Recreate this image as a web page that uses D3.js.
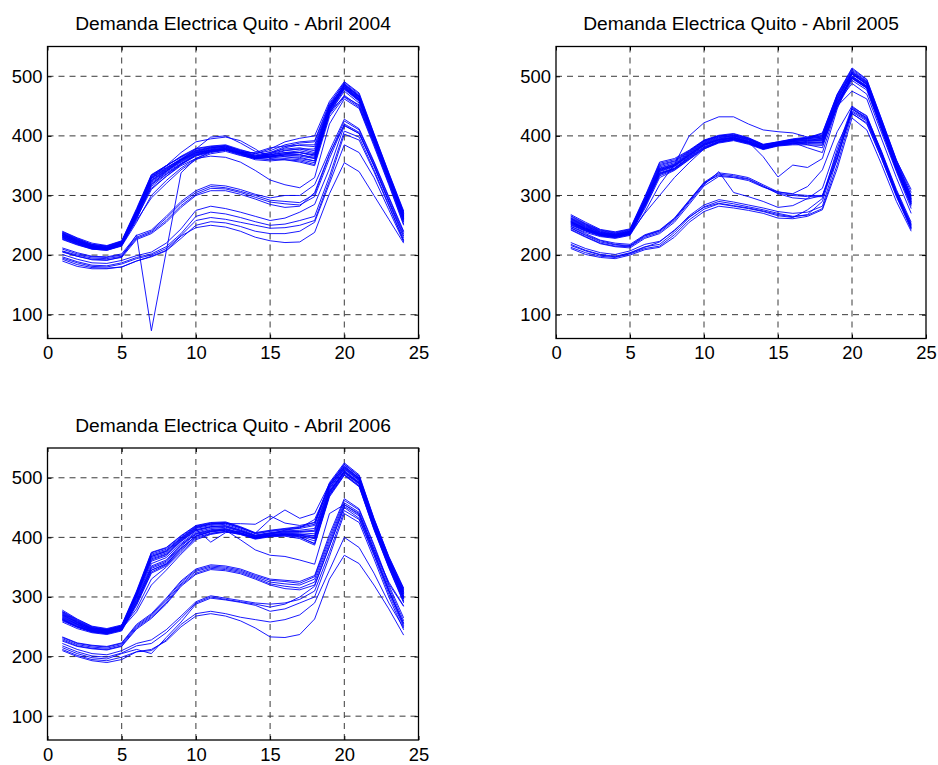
<!DOCTYPE html>
<html>
<head>
<meta charset="utf-8">
<script src="https://cdn.jsdelivr.net/npm/d3@7"></script>
<style>
  body { margin: 0; background: #fff; }
  svg { display: block; font-family: "Liberation Sans", Arial, Helvetica, sans-serif; }
</style>
</head>
<body>
<svg id="fig" width="938" height="765"></svg>
<script>
// Hour of day (1..24)
const hours = [1,2,3,4,5,6,7,8,9,10,11,12,13,14,15,16,17,18,19,20,21,22,23,24];
const xTicks = [0,5,10,15,20,25];
const yTicks = [100,200,300,400,500];
const titles = [
  "Demanda Electrica Quito - Abril 2004",
  "Demanda Electrica Quito - Abril 2005",
  "Demanda Electrica Quito - Abril 2006"
];

// Hourly demand (MW), one row per day of April 2004
const demand2004 = [
  [240,229,220,216,224,278,335,350,365,378,382,384,375,368,372,378,380,375,452,490,470,403,337,272],
  [236,225,216,213,221,272,330,346,362,375,380,382,374,366,370,376,378,372,448,487,466,400,334,268],
  [234,224,215,212,220,270,328,344,360,373,379,381,373,365,368,372,375,370,445,485,464,398,332,265],
  [232,222,214,211,219,268,325,342,358,371,377,380,372,364,366,370,372,366,442,482,462,396,330,263],
  [230,220,212,210,218,265,322,340,356,369,376,379,371,363,365,368,369,362,440,480,460,394,328,260],
  [238,227,218,215,223,275,332,347,360,372,376,378,370,362,360,362,360,355,438,478,458,393,327,258],
  [228,219,211,209,216,262,318,336,353,367,374,377,370,362,363,365,364,358,436,468,450,388,322,256],
  [235,224,215,212,221,271,329,345,361,374,380,383,376,370,375,385,390,392,455,488,468,401,335,270],
  [233,223,214,212,220,269,326,343,359,372,378,381,373,366,372,382,388,390,452,484,465,398,331,266],
  [237,226,217,214,222,274,333,349,366,379,383,385,377,370,378,390,396,400,458,491,472,404,338,274],
  [231,221,213,211,219,267,324,341,357,370,376,379,371,364,370,380,385,385,450,483,463,397,330,264],
  [229,220,212,210,217,264,320,338,354,368,375,378,370,363,368,375,378,378,446,479,459,394,328,261],
  [226,217,210,208,215,255,300,325,346,362,372,376,368,360,358,360,356,350,432,465,448,386,320,252],
  [232,222,214,211,219,262,310,332,350,362,366,364,356,342,326,318,313,330,420,462,446,383,318,250],
  [235,224,215,212,221,272,330,350,372,390,395,398,392,378,362,360,358,352,438,475,455,390,325,255],
  [233,222,213,211,219,266,318,340,360,378,398,400,388,374,368,365,362,358,442,480,460,395,329,262],
  [236,226,216,213,221,270,312,332,352,368,374,377,372,372,380,383,384,382,448,486,466,400,333,267],
  [230,219,211,209,217,258,296,320,343,360,370,374,367,362,365,368,366,362,440,466,452,390,325,259],
  [239,228,218,215,223,276,334,350,364,376,381,383,375,367,368,372,372,368,447,486,467,401,335,270],
  [227,218,210,208,216,260,315,335,352,366,373,376,369,362,364,368,368,364,444,481,461,395,329,262],
  [206,198,192,191,197,234,73,206,338,362,374,378,371,364,366,370,372,368,445,483,462,396,330,264],
  [210,202,197,196,200,230,240,262,287,305,315,313,307,300,292,290,288,302,368,425,410,355,296,238],
  [207,200,195,194,198,228,238,258,283,302,312,311,305,297,289,286,284,298,362,420,406,352,292,235],
  [205,198,193,192,196,226,236,255,280,300,308,308,302,294,285,280,282,305,370,418,404,350,290,232],
  [212,204,198,197,202,233,242,265,290,308,318,316,310,302,296,300,300,318,375,428,412,357,298,240],
  [201,193,187,186,191,199,205,220,244,275,282,278,272,265,258,262,272,285,345,417,404,349,289,229],
  [197,189,183,182,187,196,202,214,236,265,272,269,263,256,250,252,258,265,332,408,398,343,284,225],
  [195,187,181,180,185,194,200,211,233,258,263,260,255,250,245,246,250,258,325,403,393,340,282,224],
  [193,184,179,178,180,190,197,207,228,250,256,254,248,240,236,236,240,255,320,385,372,330,276,222],
  [190,181,177,177,180,190,198,208,232,246,250,247,240,230,224,221,222,238,303,355,340,300,260,220]
];

// Hourly demand (MW), one row per day of April 2005
const demand2005 = [
  [265,252,241,237,242,295,352,358,374,392,400,402,396,385,390,395,398,402,468,510,492,425,358,300],
  [262,250,239,235,240,292,348,355,372,390,398,400,394,384,388,393,396,398,465,507,490,422,355,297],
  [260,248,238,234,239,290,345,352,370,388,396,399,393,382,387,392,394,396,462,505,487,420,352,294],
  [258,246,236,233,238,288,342,350,368,386,394,397,391,381,386,391,393,394,460,503,486,418,350,292],
  [256,244,235,232,237,286,340,348,366,384,392,396,390,380,386,390,392,392,458,500,484,416,348,290],
  [254,243,234,231,236,284,338,346,364,382,391,395,389,379,385,388,390,390,455,498,482,414,346,287],
  [252,241,233,230,235,282,335,344,362,380,390,394,388,378,384,387,388,388,452,496,480,412,344,285],
  [268,255,243,239,244,298,356,362,376,393,401,404,397,386,390,394,397,405,470,514,495,428,360,305],
  [250,240,232,229,234,278,330,342,360,378,388,392,386,377,383,385,385,384,448,493,477,409,342,282],
  [263,251,240,236,241,293,350,357,373,391,399,401,395,384,389,394,396,400,466,508,491,424,357,299],
  [257,245,236,233,238,287,343,351,369,387,395,398,392,382,387,391,385,380,455,500,483,415,347,289],
  [255,244,235,232,237,285,341,349,367,385,393,396,390,380,385,389,380,372,450,497,480,412,344,285],
  [261,249,238,235,240,291,346,353,371,389,397,400,394,383,388,392,395,398,463,506,489,421,353,295],
  [253,242,234,231,236,270,300,330,355,378,390,394,388,379,384,388,391,393,457,499,483,414,346,286],
  [259,247,237,234,239,289,344,350,368,386,394,397,391,381,386,391,392,396,461,504,488,419,351,293],
  [248,238,231,228,233,272,318,352,400,422,432,432,420,410,407,405,398,400,455,488,470,405,340,278],
  [256,245,236,233,238,284,336,345,365,384,393,397,390,365,331,351,347,362,445,505,486,417,349,290],
  [251,241,233,230,235,280,333,343,361,379,389,393,387,378,384,386,387,386,450,475,462,395,330,270],
  [266,253,242,238,243,296,354,360,375,392,400,403,396,385,389,393,396,404,469,512,494,427,359,310],
  [254,243,234,231,236,283,337,345,363,381,390,394,388,379,385,388,389,389,453,497,481,413,345,288],
  [248,236,225,220,218,234,242,262,292,322,338,335,330,318,306,302,300,300,372,445,428,370,305,250],
  [245,233,222,217,215,232,240,260,290,320,336,333,328,316,304,300,298,298,365,440,425,366,302,246],
  [243,231,220,215,214,230,238,258,288,318,340,305,298,290,280,283,295,312,385,438,420,362,300,244],
  [246,234,224,218,216,233,241,261,291,321,334,331,327,315,303,296,294,300,360,447,430,372,308,252],
  [242,230,219,214,212,228,236,255,285,316,332,330,325,314,306,303,315,343,407,450,432,374,310,255],
  [221,211,204,201,207,218,223,241,266,284,293,289,284,279,273,270,272,282,362,442,427,366,301,246],
  [218,208,201,198,204,214,218,238,263,281,290,286,281,276,270,265,267,278,352,437,422,362,298,243],
  [216,207,200,197,203,213,222,242,264,280,287,283,279,274,268,264,268,290,370,445,430,368,303,248],
  [213,204,198,196,202,211,215,234,259,277,286,282,278,273,266,263,276,295,378,448,434,372,305,250],
  [211,201,196,194,200,209,213,230,255,273,282,279,275,270,262,261,265,276,345,430,410,352,290,240]
];

// Hourly demand (MW), one row per day of April 2006
const demand2006 = [
  [278,263,251,247,253,310,375,383,403,420,425,426,418,408,412,415,418,425,492,525,505,432,368,315],
  [275,261,249,245,251,307,372,380,400,418,423,424,416,406,410,413,415,420,488,522,502,430,366,312],
  [272,258,247,244,250,304,368,376,397,415,420,422,414,404,408,411,412,415,485,519,499,427,363,308],
  [270,257,246,243,249,302,364,372,395,413,418,420,412,403,407,410,410,410,482,516,497,425,361,305],
  [268,255,245,242,248,300,360,369,393,411,417,418,411,402,406,408,408,406,480,514,495,423,359,302],
  [266,254,244,241,247,298,356,366,390,409,415,417,410,401,405,407,406,402,477,512,493,421,357,300],
  [264,252,243,240,246,296,352,362,388,407,413,415,408,400,404,406,404,398,475,510,491,419,355,298],
  [262,250,242,239,245,294,348,358,385,405,411,413,407,399,403,405,402,394,472,508,489,417,353,296],
  [260,249,241,238,244,290,345,355,382,402,409,412,406,398,402,403,400,390,470,506,487,415,351,293],
  [258,247,240,237,243,286,340,352,378,400,407,410,405,397,401,402,398,387,468,504,485,413,349,290],
  [274,260,248,245,251,306,370,378,398,416,422,424,416,407,430,446,432,440,490,520,500,428,364,310],
  [271,257,247,244,250,303,366,374,396,414,392,408,410,402,406,412,416,430,486,517,498,426,362,306],
  [269,256,246,243,249,301,362,371,394,412,418,419,412,403,407,409,410,412,483,515,496,424,360,304],
  [267,254,245,242,248,280,330,350,375,398,406,410,406,400,403,405,404,400,478,511,492,420,358,301],
  [265,253,244,241,247,275,320,345,372,396,405,409,405,398,402,404,403,398,474,509,490,418,356,298],
  [262,250,242,239,245,290,345,356,382,402,410,412,396,379,370,368,362,355,440,455,440,380,325,285],
  [273,259,248,245,251,305,368,377,399,417,422,423,423,422,436,424,420,425,487,518,499,427,363,308],
  [263,251,243,240,246,293,350,360,387,406,412,414,408,400,404,406,405,403,476,510,491,419,355,297],
  [276,262,250,246,252,308,374,382,402,419,424,425,417,407,411,414,417,422,490,523,503,431,367,313],
  [261,250,242,239,245,288,342,354,380,403,410,413,407,399,403,404,401,389,471,505,486,414,350,292],
  [232,222,218,216,222,252,270,296,325,345,352,350,345,336,328,326,323,334,400,462,446,385,320,265],
  [230,220,216,214,220,250,268,293,322,343,350,348,343,334,325,322,320,330,395,458,442,380,316,260],
  [228,218,214,212,218,248,266,290,320,340,348,346,341,332,322,318,315,325,390,455,438,376,312,255],
  [226,217,213,211,217,246,264,288,318,338,346,344,339,330,320,314,312,320,385,450,432,372,310,252],
  [233,223,219,217,223,254,272,298,327,347,354,352,347,338,330,328,326,336,405,465,448,388,322,284],
  [222,212,205,203,210,222,228,245,268,292,302,298,294,290,288,290,296,310,375,445,430,370,305,250],
  [218,208,201,199,206,218,222,240,264,290,300,296,292,288,283,288,300,318,385,452,436,375,310,256],
  [215,205,198,196,205,212,205,232,258,288,298,295,291,286,276,280,290,300,368,440,425,364,300,245],
  [212,202,195,193,199,208,210,228,254,272,276,272,266,262,258,262,270,290,345,400,383,340,290,248],
  [210,200,193,190,195,208,212,226,250,268,272,268,260,248,233,232,237,263,330,370,356,320,280,236]
];

const svg = d3.select("#fig");
const tickFont = 18.4;
const titleFont = 19.2;

const panels = [
  { title: titles[0], data: demand2004, left: 47.5, right: 418.5, top: 46.5, bottom: 338.5 },
  { title: titles[1], data: demand2005, left: 556,  right: 926,   top: 46.5, bottom: 338.5 },
  { title: titles[2], data: demand2006, left: 47.5, right: 418.5, top: 448,  bottom: 740 }
];

panels.forEach(p => {
  const x = d3.scaleLinear().domain([0, 25]).range([p.left, p.right]);
  const y = d3.scaleLinear().domain([60, 550]).range([p.bottom, p.top]);
  const g = svg.append("g");

  // dashed grid
  const grid = g.append("g").attr("stroke", "#3a3a3a").attr("stroke-width", 1)
    .attr("stroke-dasharray", "6,5").attr("fill", "none");
  grid.selectAll("line.gx").data(xTicks.filter(v => v > 0 && v < 25)).join("line")
    .attr("class", "gx")
    .attr("x1", d => x(d)).attr("x2", d => x(d))
    .attr("y1", p.bottom).attr("y2", p.top);
  grid.selectAll("line.gy").data(yTicks).join("line")
    .attr("class", "gy")
    .attr("x1", p.left).attr("x2", p.right)
    .attr("y1", d => y(d)).attr("y2", d => y(d));

  // daily load curves
  const line = d3.line().x((d, i) => x(hours[i])).y(d => y(d));
  g.append("g").selectAll("path").data(p.data).join("path")
    .attr("d", line)
    .attr("fill", "none")
    .attr("stroke", "#0000ff")
    .attr("stroke-width", 0.9)
    .attr("stroke-linejoin", "round");

  // axes with inward ticks
  const ax = g.append("g").attr("transform", `translate(0,${p.bottom})`)
    .call(d3.axisBottom(x).tickValues(xTicks).tickSizeInner(-4).tickSizeOuter(0).tickPadding(7.5));
  const ay = g.append("g").attr("transform", `translate(${p.left},0)`)
    .call(d3.axisLeft(y).tickValues(yTicks).tickSizeInner(-4).tickSizeOuter(0).tickPadding(5));
  g.append("g").attr("transform", `translate(0,${p.top})`)
    .call(d3.axisTop(x).tickValues(xTicks).tickSizeInner(-4).tickSizeOuter(0).tickFormat(""));
  g.append("g").attr("transform", `translate(${p.right},0)`)
    .call(d3.axisRight(y).tickValues(yTicks).tickSizeInner(-4).tickSizeOuter(0).tickFormat(""));
  g.selectAll(".domain").remove();
  g.selectAll(".tick line").attr("stroke", "#000");
  [ax, ay].forEach(a => a.attr("font-size", null).attr("font-family", null)
    .selectAll("text").attr("font-size", tickFont).attr("fill", "#000"));

  // axes box
  g.append("rect")
    .attr("x", p.left).attr("y", p.top)
    .attr("width", p.right - p.left).attr("height", p.bottom - p.top)
    .attr("fill", "none").attr("stroke", "#000").attr("stroke-width", 1.3);

  // title
  g.append("text")
    .attr("x", (p.left + p.right) / 2).attr("y", p.top - 16.5)
    .attr("text-anchor", "middle")
    .attr("font-size", titleFont)
    .attr("fill", "#000")
    .text(p.title);
});
</script>
</body>
</html>
